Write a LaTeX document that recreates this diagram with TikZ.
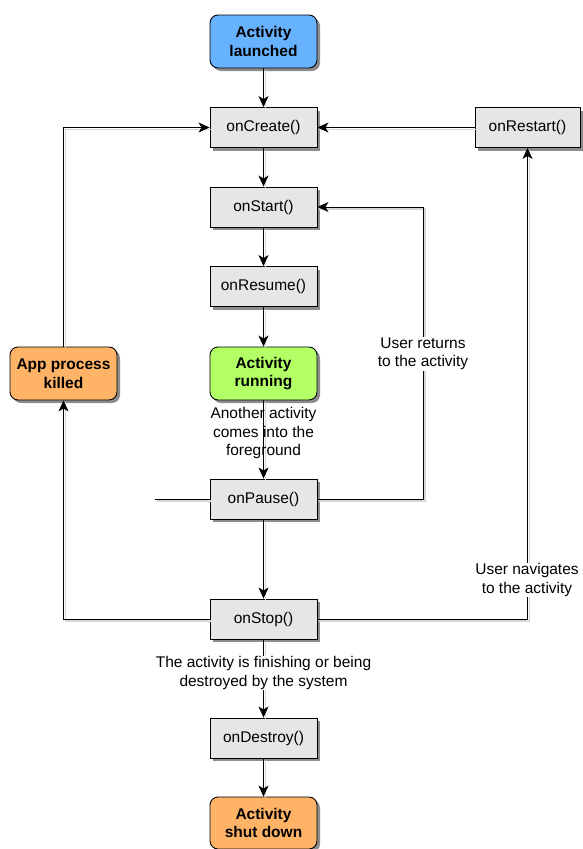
\documentclass[tikz,border=0pt]{standalone}
\usepackage{fontspec}
\setmainfont{Liberation Sans}
\usetikzlibrary{arrows.meta,shadows,positioning}
\definecolor{launchblue}{HTML}{66B2FF}
\definecolor{rungreen}{HTML}{B2FF66}
\definecolor{endorange}{HTML}{FFB366}
\definecolor{stepgrey}{HTML}{E6E6E6}
\newcommand{\lblfont}{\fontsize{15.5}{18.5}\selectfont}
\tikzset{
  box/.style={draw=black, line width=0.9pt, align=center, inner sep=0pt,
    font=\lblfont, minimum width=107pt,
    drop shadow={shadow xshift=3pt, shadow yshift=-3pt, fill=black!45, opacity=1}},
  callbox/.style={box, fill=stepgrey, minimum height=40pt},
  statebox/.style={box, rounded corners=8pt, minimum height=53pt, font=\lblfont\bfseries},
  conn/.style={line width=1pt, -{Stealth[length=11pt,width=10pt,inset=3pt]},
    preaction={draw=black!16, line width=1.6pt, -,
      transform canvas={xshift=1.8pt,yshift=-1.8pt}}},
  wire/.style={conn, -},
  edgetext/.style={font=\lblfont, align=center, inner sep=1pt},
  cuttext/.style={edgetext, fill=white}
}
\begin{document}
\begin{tikzpicture}[x=1pt,y=-1pt]
\useasboundingbox (0,0) rectangle (582,849);

% states and lifecycle callbacks
\node[statebox, fill=launchblue] (launched) at (263.5,41.5) {Activity\\launched};
\node[callbox] (create)  at (263.5,127.5) {onCreate()};
\node[callbox, minimum width=105pt] (restart) at (527.5,127.5) {onRestart()};
\node[callbox] (start)   at (263.5,207) {onStart()};
\node[callbox] (resume)  at (263.5,286.5) {onResume()};
\node[statebox, fill=rungreen] (running) at (263.5,373.5) {Activity\\running};
\node[statebox, fill=endorange] (killed) at (63.5,373.5) {App process\\killed};
\node[callbox] (pause)   at (263.5,499) {onPause()};
\node[callbox] (stop)    at (263.5,619) {onStop()};
\node[callbox] (destroy) at (263.5,738) {onDestroy()};
\node[statebox, fill=endorange, minimum height=52pt] (shutdown) at (263.5,823) {Activity\\shut down};

\coordinate (pausefeed) at (155,499);

% main path down the lifecycle
\draw[conn] (launched) -- (create);
\draw[conn] (create) -- (start);
\draw[conn] (start) -- (resume);
\draw[conn] (resume) -- (running);
\draw[conn] (running) -- (pause);
\draw[conn] (pause) -- (stop);
\draw[conn] (stop) -- (destroy);
\draw[conn] (destroy) -- (shutdown);

% return paths
\draw[conn] (restart) -- (create);
\draw[conn] (killed.north) |- (create.west);
\draw[conn] (stop.west) -| (killed.south);
\draw[conn] (stop.east) -| (restart.south);
\draw[conn] (pause.east) -- (423,499) |- (start.east);
\draw[wire] (pausefeed) -- (pause.west);

% transition labels
\node[edgetext] (lblfore) at (263.5,433) {Another activity\\comes into the\\foreground};
\node[cuttext] (lblreturn) at (423,354) {User returns\\to the activity};
\node[cuttext] (lblnav) at (527,580) {User navigates\\to the activity};
\node[cuttext] (lblfinish) at (263.5,673) {The activity is finishing or being\\destroyed by the system};
\end{tikzpicture}
\end{document}
